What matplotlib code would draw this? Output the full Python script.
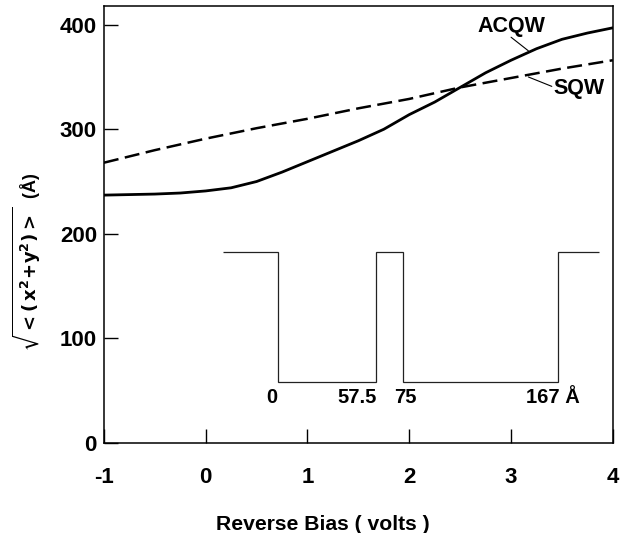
import matplotlib
matplotlib.use("Agg")
import matplotlib.pyplot as plt

plt.rcParams['font.family'] = ['Liberation Sans', 'DejaVu Sans']
plt.rcParams['font.weight'] = 'bold'
plt.rcParams['mathtext.fontset'] = 'dejavusans'
plt.rcParams['mathtext.default'] = 'bf'
plt.rcParams['axes.unicode_minus'] = False

# ACQW (solid) and SQW (dashed) curves
bias_acqw = [-1, -0.75, -0.5, -0.25, 0, 0.25, 0.5, 0.75, 1, 1.25, 1.5, 1.75,
             2, 2.25, 2.5, 2.75, 3, 3.25, 3.5, 3.75, 4]
r_acqw = [237, 237.5, 238, 239, 241, 244, 250, 259, 269, 279, 289, 300,
          314, 326, 340, 354, 366, 377, 386, 392, 397]

bias_sqw = [-1, -0.5, 0, 0.5, 1, 1.5, 2, 2.5, 3, 3.5, 4]
r_sqw = [268, 280, 291, 301, 310, 320, 329, 340, 349, 358, 366]

# well profile sketch (drawn in data coords)
well_edges = [0.17, 0.71, 1.67, 1.94, 3.46, 3.86]
well_levels = [183, 58, 183, 58, 183]
well_labels = ['0', '57.5', '75', '167 Å']
well_label_x = [0.65, 1.49, 1.96, 3.41]

fig, ax = plt.subplots(figsize=(6.26, 5.33), dpi=100)
fig.subplots_adjust(left=0.166, right=0.979, bottom=0.169, top=0.989)

ax.plot(bias_acqw, r_acqw, color='black', lw=2.0)
ax.plot(bias_sqw, r_sqw, color='black', lw=1.8, dashes=(6, 2.6))
ax.stairs(well_levels, well_edges, baseline=None, color='#222222', lw=0.9)

for lab, xv in zip(well_labels, well_label_x):
    ax.text(xv, 43, lab, ha='center', va='center', fontsize=14.5, fontweight='bold')

# curve labels with short leader lines
ax.text(3.0, 398, 'ACQW', ha='center', va='center', fontsize=15.5, fontweight='bold')
ax.annotate('', xy=(3.17, 375), xytext=(3.0, 388),
            arrowprops=dict(arrowstyle='-', lw=0.8, color='black', shrinkA=0, shrinkB=0))
ax.text(3.67, 339, 'SQW', ha='center', va='center', fontsize=15.5, fontweight='bold')
ax.annotate('', xy=(3.17, 350), xytext=(3.40, 341),
            arrowprops=dict(arrowstyle='-', lw=0.8, color='black', shrinkA=0, shrinkB=0))

ax.set_xlim(-1, 4)
ax.set_ylim(0, 418)
ax.set_xticks([-1, 0, 1, 2, 3, 4])
ax.set_yticks([0, 100, 200, 300, 400])
ax.tick_params(axis='x', direction='in', length=10, width=1, pad=17, labelsize=16)
ax.tick_params(axis='y', direction='in', length=10, width=1, pad=5, labelsize=16)
for lab in ax.get_xticklabels() + ax.get_yticklabels():
    lab.set_fontweight('bold')
for sp in ax.spines.values():
    sp.set_linewidth(1.1)

ax.set_xlabel('Reverse Bias ( volts )', fontsize=15.2, fontweight='bold')
ax.xaxis.set_label_coords(0.43, -0.165)
ax.set_ylabel(r'$\sqrt{<(\,x^2\!+\!y^2)>}$  (Å)', fontsize=13, fontweight='bold')
ax.yaxis.set_label_coords(-0.12, 0.415)

fig.savefig('out.png', dpi=100)
